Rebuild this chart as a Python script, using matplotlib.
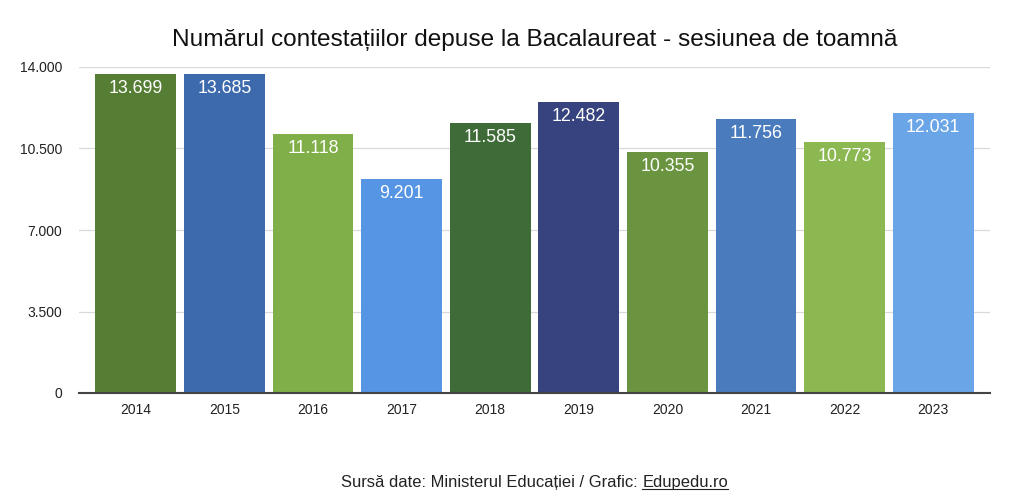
import matplotlib
matplotlib.use('Agg')
import matplotlib.pyplot as plt

plt.rcParams['font.family'] = ['Liberation Sans', 'DejaVu Sans']

# Date
years = ['2014', '2015', '2016', '2017', '2018', '2019', '2020', '2021', '2022', '2023']
contestatii = [13699, 13685, 11118, 9201, 11585, 12482, 10355, 11756, 10773, 12031]
labels = ['13.699', '13.685', '11.118', '9.201', '11.585', '12.482', '10.355', '11.756', '10.773', '12.031']
bar_colors = ['#557d34', '#3d69ad', '#80ae48', '#5595e4', '#3e6b37',
              '#36437e', '#6a943f', '#4a7bbd', '#8cb851', '#6aa5e8']
yticks = [0, 3500, 7000, 10500, 14000]
ytick_labels = ['0', '3.500', '7.000', '10.500', '14.000']

W, H = 1024, 501
fig = plt.figure(figsize=(W / 100, H / 100), dpi=100)
ax = fig.add_axes([79 / W, 108 / H, 911 / W, 326 / H])

x = list(range(len(years)))
ax.bar(x, contestatii, width=0.91, color=bar_colors, zorder=2)

for xi, v, lab in zip(x, contestatii, labels):
    ax.annotate(lab, (xi, v), xytext=(0, -10.5), textcoords='offset points',
                ha='center', va='center', color='white', fontsize=12.8)

ax.set_xlim(-0.64, 9.64)
ax.set_ylim(0, 14000)
ax.set_yticks(yticks)
ax.set_yticklabels(ytick_labels, fontsize=10)
ax.set_xticks(x)
ax.set_xticklabels(years, fontsize=10)
ax.tick_params(axis='both', length=0, colors='#222222')
ax.tick_params(axis='y', pad=12)
ax.tick_params(axis='x', pad=7)

ax.grid(axis='y', color='#d9d9d9', linewidth=0.9, zorder=0)
for s in ['top', 'right', 'left']:
    ax.spines[s].set_visible(False)
ax.spines['bottom'].set_color('#444444')
ax.spines['bottom'].set_linewidth(1.5)
ax.spines['bottom'].set_zorder(3)

fig.text(534.5 / W, 1 - 40 / H, 'Numărul contestațiilor depuse la Bacalaureat - sesiunea de toamnă',
         ha='center', va='center', fontsize=17.6, color='#111111')

# sursa, cu link subliniat
src_y = 1 - 482 / H
part1 = 'Sursă date: Ministerul Educației / Grafic: '
part2 = 'Edupedu.ro'
tmp = fig.text(534.5 / W, src_y, part1 + part2, ha='center', va='center', fontsize=11.9)
fig.canvas.draw()
x_start = tmp.get_window_extent().x0
tmp.remove()

t1 = fig.text(x_start / W, src_y, part1, ha='left', va='center', fontsize=11.9, color='#222222')
fig.canvas.draw()
b1 = t1.get_window_extent()
t2 = fig.text(b1.x1 / W, src_y, part2, ha='left', va='center', fontsize=11.9, color='#222222')
fig.canvas.draw()
b2 = t2.get_window_extent()
uy = (b2.y0 + 1) / H
fig.add_artist(plt.Line2D([b2.x0 / W, b2.x1 / W], [uy, uy], color='#222222', linewidth=0.8))

fig.savefig('out.png', dpi=100)
